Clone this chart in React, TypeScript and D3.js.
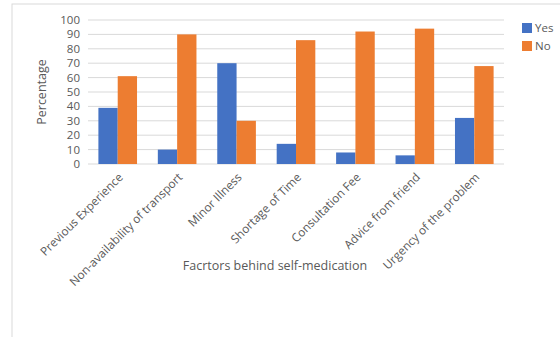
import React from "react";
import * as d3 from "d3";

const categories = [
  "Previous Experience",
  "Non-availability of transport",
  "Minor Illness",
  "Shortage of Time",
  "Consultation Fee",
  "Advice from friend",
  "Urgency of the problem",
];
const yesValues = [39, 10, 70, 14, 8, 6, 32];
const noValues = [61, 90, 30, 86, 92, 94, 68];
const seriesNames = ["Yes", "No"];
const seriesColors = ["#4472C4", "#ED7D31"];
const yTicks = [0, 10, 20, 30, 40, 50, 60, 70, 80, 90, 100];

export default function App() {
  const W = 560, H = 337;
  const left = 88, right = 504, top = 20, bottom = 164;
  const x = d3.scaleBand<string>().domain(categories).range([left, right]).paddingInner(0.35).paddingOuter(0.175);
  const xs = d3.scaleBand<string>().domain(seriesNames).range([0, x.bandwidth()]);
  const y = d3.scaleLinear().domain([0, 100]).range([bottom, top]);
  const font = "'Open Sans', sans-serif";
  const grey = "#595959";
  const series = [yesValues, noValues];
  return (
    <svg width={W} height={H} style={{ position: "absolute", left: 0, top: 0 }} fontFamily={font}>
      <rect x={0} y={0} width={W} height={H} fill="#fff" />
      <rect x={12} y={4} width={W} height={H} fill="none" stroke="#D9D9D9" strokeWidth={1} />
      {yTicks.map((t) => (
        <g key={t}>
          <line x1={left} x2={right} y1={y(t)} y2={y(t)} stroke="#D9D9D9" strokeWidth={1} />
          <text x={80} y={y(t)} dy="0.35em" textAnchor="end" fontSize={11.5} fill={grey}>{t}</text>
        </g>
      ))}
      {series.map((vals, si) =>
        categories.map((c, i) => (
          <rect
            key={`${si}-${i}`}
            x={(x(c) as number) + (xs(seriesNames[si]) as number)}
            y={y(vals[i])}
            width={xs.bandwidth()}
            height={y(0) - y(vals[i])}
            fill={seriesColors[si]}
          />
        ))
      )}
      {categories.map((c) => {
        const cx = (x(c) as number) + x.bandwidth() / 2 + 6;
        return (
          <text key={c} transform={`translate(${cx},${178}) rotate(-45)`} textAnchor="end" fontSize={11.8} fill={grey}>
            {c}
          </text>
        );
      })}
      <text transform={`translate(46,${(top + bottom) / 2}) rotate(-90)`} textAnchor="middle" fontSize={12.5} fill={grey}>
        Percentage
      </text>
      <text x={275} y={270} textAnchor="middle" fontSize={12.5} fill={grey}>
        Facrtors behind self-medication
      </text>
      {seriesNames.map((s, i) => (
        <g key={s}>
          <rect x={522} y={23 + i * 18} width={10} height={10} fill={seriesColors[i]} />
          <text x={535} y={28 + i * 18} dy="0.35em" fontSize={11.5} fill={grey}>{s}</text>
        </g>
      ))}
    </svg>
  );
}
